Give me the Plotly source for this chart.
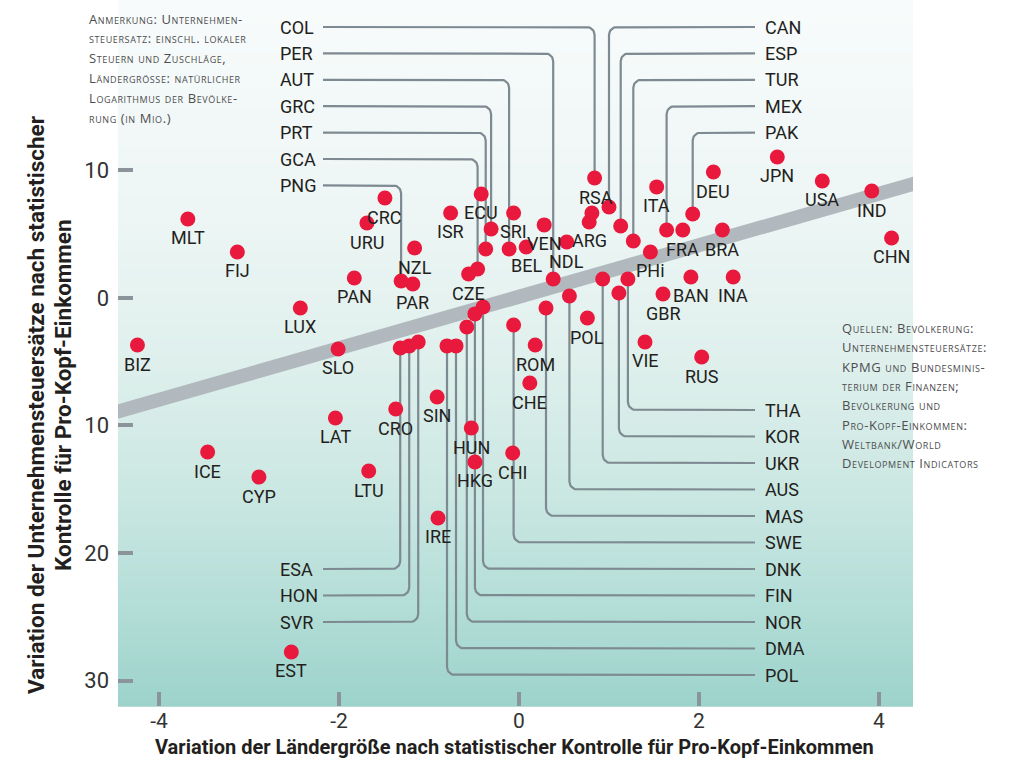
import math
import plotly.graph_objects as go

# ---------------- data ----------------
direct_names = ["BIZ", "MLT", "FIJ", "LUX", "PAN", "SLO", "CRC", "URU", "NZL", "PAR",
                "ISR", "ECU", "CZE", "SRI", "BEL", "VEN", "NDL", "ARG", "RSA", "ITA",
                "DEU", "JPN", "USA", "IND", "CHN", "FRA", "BRA", "PHi", "BAN", "INA",
                "GBR", "POL", "VIE", "RUS", "ROM", "CHE", "CHI", "HUN", "HKG", "SIN",
                "CRO", "LAT", "LTU", "ICE", "CYP", "IRE", "EST"]
direct_x = [-4.24, -3.68, -3.13, -2.43, -1.83, -2.01, -1.49, -1.69, -1.16, -1.18,
            -0.76, -0.42, -0.56, -0.06, 0.08, 0.28, 0.53, 0.78, 0.81, 1.53,
            2.16, 2.87, 3.37, 3.92, 4.14, 1.82, 2.26, 1.46, 1.91, 2.38,
            1.60, 0.76, 1.40, 2.03, 0.18, 0.12, -0.07, -0.53, -0.49, -0.91,
            -1.37, -2.04, -1.67, -3.46, -2.89, -0.90, -2.53]
direct_y = [-3.69, 6.20, 3.61, -0.78, 1.57, -4.00, 7.84, 5.88, 3.92, 1.10,
            6.67, 8.16, 1.88, 6.67, 4.00, 5.73, 4.39, 5.96, 6.67, 8.71,
            9.88, 11.06, 9.18, 8.39, 4.71, 5.33, 5.33, 3.61, 1.65, 1.65,
            0.31, -1.57, -3.45, -4.63, -3.69, -6.67, -12.16, -10.20, -12.86, -7.76,
            -8.71, -9.41, -13.57, -12.08, -14.04, -17.25, -27.76]

# callouts: labels at top left
tl_names = ["COL", "PER", "AUT", "GRC", "PRT", "GCA", "PNG"]
tl_x = [0.84, 0.38, -0.11, -0.31, -0.37, -0.46, -1.31]
tl_y = [9.41, 1.49, 3.84, 5.41, 3.84, 2.27, 1.33]
# callouts: labels at top right
tr_names = ["CAN", "ESP", "TUR", "MEX", "PAK"]
tr_x = [1.00, 1.13, 1.27, 1.64, 1.93]
tr_y = [7.14, 5.65, 4.47, 5.33, 6.59]
# callouts: labels at bottom left
bl_names = ["ESA", "HON", "SVR"]
bl_x = [-1.32, -1.22, -1.12]
bl_y = [-3.92, -3.76, -3.45]
# callouts: labels at bottom right
br_names = ["THA", "KOR", "UKR", "AUS", "MAS", "SWE", "DNK", "FIN", "NOR", "DMA", "POL"]
br_x = [1.21, 1.11, 0.93, 0.56, 0.30, -0.06, -0.40, -0.49, -0.58, -0.70, -0.80]
br_y = [1.49, 0.39, 1.49, 0.16, -0.78, -2.12, -0.71, -1.25, -2.27, -3.76, -3.76]

# regression line
reg_intercept = 0.1
reg_slope = 2.02

x_tickvals = [-4, -2, 0, 2, 4]
x_ticktext = ["-4", "-2", "0", "2", "4"]
y_tickvals = [10, 0, -10, -20, -30]
y_ticktext = ["10", "0", "10", "20", "30"]

x_title = "Variation der Ländergröße nach statistischer Kontrolle für Pro-Kopf-Einkommen"
y_title_1 = "Variation der Unternehmensteuersätze nach statistischer"
y_title_2 = "Kontrolle für Pro-Kopf-Einkommen"

note_left = ["Anmerkung: Unternehmen-", "steuersatz: einschl. lokaler",
             "Steuern und Zuschläge,", "Ländergrösse: natürlicher",
             "Logarithmus der Bevölke-", "rung (in Mio.)"]
note_right = ["Quellen: Bevölkerung:", "Unternehmensteuersätze:",
              "KPMG und Bundesminis-", "terium der Finanzen;",
              "Bevölkerung und", "Pro-Kopf-Einkommen:",
              "Weltbank/World", "Development Indicators"]

# ---------------- layout / style ----------------
W, H = 1019, 760
ML, MR, MT, MB = 118, 106, 0, 54
PW, PH = W - ML - MR, H - MT - MB
X_RANGE = [-4.456, 4.378]
Y_RANGE = [-32.0, 23.37]
SX = (X_RANGE[1] - X_RANGE[0]) / PW   # data units per pixel
SY = (Y_RANGE[1] - Y_RANGE[0]) / PH

FONT = "Roboto, 'Liberation Sans', Arial, sans-serif"
NOTE_FONT = "'Open Sans', Roboto, sans-serif"
RED = "#e8193c"
LEAD = "#7e8a92"
BAND = "#b1b9bf"
TXT = "#231f20"


def px_x(px):
    return X_RANGE[0] + (px - ML) * SX


def px_y(py):
    return Y_RANGE[1] - (py - MT) * SY


def paper(px, py):
    return (px - ML) / PW, 1 - (py - MT) / PH


fig = go.Figure()

# background gradient (plot area)
stops = [(0.0, (248, 251, 251)), (0.3, (237, 246, 245)), (0.5, (224, 240, 237)),
         (0.7, (203, 231, 226)), (0.85, (181, 222, 216)), (1.0, (156, 211, 203))]


def grad(t):
    for (t0, c0), (t1, c1) in zip(stops[:-1], stops[1:]):
        if t0 <= t <= t1:
            f = (t - t0) / (t1 - t0)
            return "rgb(%d,%d,%d)" % tuple(round(a + (b - a) * f) for a, b in zip(c0, c1))
    return "rgb(%d,%d,%d)" % stops[-1][1]


N = 120
for i in range(N):
    t = (i + 0.5) / N
    fig.add_shape(type="rect", xref="paper", yref="paper", x0=0, x1=1,
                  y0=1 - (i + 1) / N - 0.001, y1=1 - i / N + 0.001,
                  fillcolor=grad(t), line_width=0, layer="below")

# regression band
rx = [X_RANGE[0] - 0.2, X_RANGE[1] + 0.2]
ry = [reg_intercept + reg_slope * v for v in rx]
fig.add_trace(go.Scatter(x=rx, y=ry, mode="lines", line=dict(color=BAND, width=14),
                         hoverinfo="skip", showlegend=False))

# leader lines
R = 8  # corner radius in px


def leader(xs, ys, px, py, dx, dy):
    rxd, ryd = R * SX, R * SY
    cx, cy = px - dx * rxd, ys + dy * ryd
    pts = [(xs, ys), (cx, ys)]
    for k in range(1, 10):
        a = math.radians(90 * k / 10)
        pts.append((cx + dx * rxd * math.sin(a), cy - dy * ryd * math.cos(a)))
    pts += [(px, cy), (px, py)]
    return pts


LEFT_LABEL_X = px_x(278)
LEFT_LINE_X = px_x(323)
RIGHT_LINE_X = px_x(755)
RIGHT_LABEL_X = px_x(763)
TOP_ROW0, TOP_STEP = 27, 26.4
BOT_ROW0, BOT_STEP = 410, 26.5
BL_OFFSET = 6

lx, ly = [], []
labels = []  # (x, y, text)
for i, (n, x, y) in enumerate(zip(tl_names, tl_x, tl_y)):
    ry_ = px_y(TOP_ROW0 + TOP_STEP * i)
    for p in leader(LEFT_LINE_X, ry_, x, y, 1, -1):
        lx.append(p[0]); ly.append(p[1])
    lx.append(None); ly.append(None)
    labels.append((LEFT_LABEL_X, ry_, n))
for i, (n, x, y) in enumerate(zip(tr_names, tr_x, tr_y)):
    ry_ = px_y(TOP_ROW0 + TOP_STEP * i)
    for p in leader(RIGHT_LINE_X, ry_, x, y, -1, -1):
        lx.append(p[0]); ly.append(p[1])
    lx.append(None); ly.append(None)
    labels.append((RIGHT_LABEL_X, ry_, n))
for i, (n, x, y) in enumerate(zip(bl_names, bl_x, bl_y)):
    ry_ = px_y(BOT_ROW0 + BOT_STEP * (i + BL_OFFSET))
    for p in leader(LEFT_LINE_X, ry_, x, y, 1, 1):
        lx.append(p[0]); ly.append(p[1])
    lx.append(None); ly.append(None)
    labels.append((LEFT_LABEL_X, ry_, n))
for i, (n, x, y) in enumerate(zip(br_names, br_x, br_y)):
    ry_ = px_y(BOT_ROW0 + BOT_STEP * i)
    for p in leader(RIGHT_LINE_X, ry_, x, y, -1, 1):
        lx.append(p[0]); ly.append(p[1])
    lx.append(None); ly.append(None)
    labels.append((RIGHT_LABEL_X, ry_, n))

fig.add_trace(go.Scatter(x=lx, y=ly, mode="lines", line=dict(color=LEAD, width=2.2),
                         hoverinfo="skip", showlegend=False))

# points
all_x = direct_x + tl_x + tr_x + bl_x + br_x
all_y = direct_y + tl_y + tr_y + bl_y + br_y
all_n = direct_names + tl_names + tr_names + bl_names + br_names
fig.add_trace(go.Scatter(x=all_x, y=all_y, mode="markers", text=all_n,
                         marker=dict(color=RED, size=15, line_width=0),
                         hovertemplate="%{text}: %{x}, %{y}<extra></extra>",
                         showlegend=False))

annotations = []
LABEL_SIZE = 18
label_shift = {"RSA": (4, 15)}
for n, x, y in zip(direct_names, direct_x, direct_y):
    xs, ys = label_shift.get(n, (0, -19))
    annotations.append(dict(x=x, y=y, xref="x", yref="y", text=n, showarrow=False,
                            xshift=xs, yshift=ys, xanchor="center", yanchor="middle",
                            font=dict(family=FONT, size=LABEL_SIZE, color=TXT)))
for x, y, n in labels:
    annotations.append(dict(x=x, y=y, xref="x", yref="y", text=n, showarrow=False,
                            xanchor="left", yanchor="middle",
                            font=dict(family=FONT, size=LABEL_SIZE, color=TXT)))

# notes
NOTE_STYLE = dict(family=NOTE_FONT, size=13, color="#4d4d4f", variant="small-caps")
for i, line in enumerate(note_left):
    xp, yp = paper(87, 18.5 + 19.9 * i)
    annotations.append(dict(x=xp, y=yp, xref="paper", yref="paper", showarrow=False,
                            text='<span style="letter-spacing:0.6px">%s</span>' % line,
                            xanchor="left", yanchor="middle", font=NOTE_STYLE))
for i, line in enumerate(note_right):
    xp, yp = paper(840, 328 + 19.3 * i)
    annotations.append(dict(x=xp, y=yp, xref="paper", yref="paper", showarrow=False,
                            text='<span style="letter-spacing:0.6px">%s</span>' % line,
                            xanchor="left", yanchor="middle", font=NOTE_STYLE))

# axis titles
xp, yp = paper(514, 747)
annotations.append(dict(x=xp, y=yp, xref="paper", yref="paper", text="<b>%s</b>" % x_title,
                        showarrow=False, xanchor="center", yanchor="middle",
                        font=dict(family=FONT, size=20, color=TXT)))
xp, yp = paper(36, 405)
annotations.append(dict(x=xp, y=yp, xref="paper", yref="paper", text="<b>%s</b>" % y_title_1,
                        showarrow=False, textangle=-90, xanchor="center", yanchor="middle",
                        font=dict(family=FONT, size=22.5, color=TXT)))
xp, yp = paper(63, 395)
annotations.append(dict(x=xp, y=yp, xref="paper", yref="paper", text="<b>%s</b>" % y_title_2,
                        showarrow=False, textangle=-90, xanchor="center", yanchor="middle",
                        font=dict(family=FONT, size=22.5, color=TXT)))

fig.update_layout(
    width=W, height=H, margin=dict(l=ML, r=MR, t=MT, b=MB, pad=0),
    paper_bgcolor="white", plot_bgcolor="white",
    showlegend=False, annotations=annotations,
    xaxis=dict(range=X_RANGE, showgrid=False, zeroline=False, showline=False,
               tickvals=x_tickvals, ticktext=x_ticktext, ticks="inside", ticklen=14,
               tickwidth=4, tickcolor="#8a949a", ticklabelstandoff=0,
               tickfont=dict(family=FONT, size=21, color="#333333")),
    yaxis=dict(range=Y_RANGE, showgrid=False, zeroline=False, showline=False,
               tickvals=y_tickvals, ticktext=y_ticktext, ticks="inside", ticklen=15,
               tickwidth=4, tickcolor="#8a949a", ticklabelstandoff=8,
               tickfont=dict(family=FONT, size=22, color="#333333")),
)

fig.write_html("out.html", config={"displayModeBar": False},
               post_script="document.body.style.margin='0px';"
                           "document.body.style.overflow='hidden';")
